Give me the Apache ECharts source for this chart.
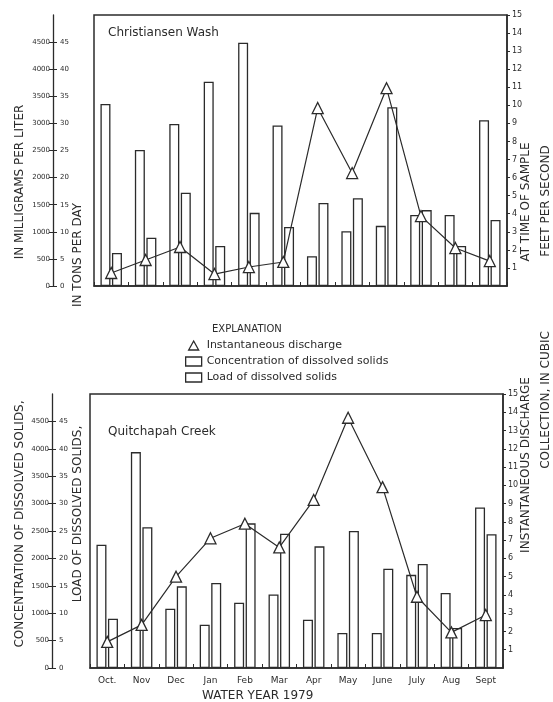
<!DOCTYPE html>
<html><head><meta charset="utf-8">
<script src="https://cdn.jsdelivr.net/npm/echarts@6/dist/echarts.min.js"></script>
<style>html,body{margin:0;padding:0;background:#fff}#c{width:553px;height:702px}</style>
</head><body><div id="c"></div>
<script>
// ---- data ----
const months = ['Oct.','Nov','Dec','Jan','Feb','Mar','Apr','May','June','July','Aug','Sept'];
// Christiansen Wash
const cwConc = [3360, 2510, 2990, 3770, 4490, 2960, 550, 1010, 1110, 1310, 1310, 3060];   // mg/L
const cwLoad = [6.1, 8.9, 17.2, 7.4, 13.5, 10.9, 15.3, 16.2, 33.0, 14.0, 7.4, 12.2];       // tons/day
const cwDis  = [0.72, 1.44, 2.16, 0.66, 1.05, 1.33, 9.85, 6.25, 10.95, 3.87, 2.1, 1.38];  // ft3/s
// Quitchapah Creek
const qcConc = [2250, 3940, 1080, 790, 1190, 1340, 880, 640, 640, 1700, 1370, 2930];
const qcLoad = [9.0, 25.7, 14.9, 15.5, 26.4, 24.5, 22.2, 25.0, 18.1, 19.0, 7.3, 24.4];
const qcDis  = [1.43, 2.36, 5.0, 7.1, 7.9, 6.6, 9.2, 13.7, 9.9, 3.9, 1.95, 2.9];

const ink = '#2b2b2b';
const FONT = 'DejaVu Sans';
const chart = echarts.init(document.getElementById('c'));
const plain = v => String(v);

function xAx(g, showLabels) {
  return {type:'category', gridIndex:g, data:months, boundaryGap:true,
    axisLine:{show:true, lineStyle:{color:ink, width:1.5}},
    axisTick:{show:true, inside:true, length:4, lineStyle:{color:ink, width:1}},
    axisLabel:{show:showLabels, color:ink, fontSize:9, fontFamily:FONT, margin:8, interval:0},
    splitLine:{show:false}};
}
function concAx(g, off) {
  return {type:'value', gridIndex:g, position:'left', offset:off, min:0, max:5000, interval:500,
    axisLine:{show:true, lineStyle:{color:ink, width:1.3}},
    axisTick:{show:true, length:4, lineStyle:{color:ink}},
    axisLabel:{color:ink, fontSize:7, fontFamily:FONT, margin:3, showMaxLabel:false, formatter:plain},
    splitLine:{show:false}};
}
function loadAx(g, off) {
  return {type:'value', gridIndex:g, position:'left', offset:off, min:0, max:50, interval:5,
    axisLine:{show:false},
    axisTick:{show:true, inside:true, length:4, lineStyle:{color:ink}},
    axisLabel:{inside:true, color:ink, fontSize:7, fontFamily:FONT, margin:7, showMaxLabel:false, formatter:plain},
    splitLine:{show:false}};
}
function disAx(g) {
  return {type:'value', gridIndex:g, position:'right', min:0, max:15, interval:1,
    axisLine:{show:true, lineStyle:{color:ink, width:1.5}},
    axisTick:{show:true, length:3, lineStyle:{color:ink}},
    axisLabel:{color:ink, fontSize:8, fontFamily:FONT, margin:5, showMinLabel:false, formatter:plain},
    splitLine:{show:false}};
}
const barStyle = {color:'rgba(255,255,255,0)', borderColor:ink, borderWidth:1.3};
function bars(name, xi, yi, data) {
  return {type:'bar', name:name, xAxisIndex:xi, yAxisIndex:yi, data:data,
    barWidth:10, barGap:'15%', itemStyle:barStyle, z:2};
}
function line(xi, yi, data) {
  return {type:'line', name:'Instantaneous discharge', xAxisIndex:xi, yAxisIndex:yi, data:data,
    symbol:'triangle', symbolSize:11, z:5,
    itemStyle:{color:'#fff', borderColor:ink, borderWidth:1.3},
    lineStyle:{color:ink, width:1.2}};
}
function vtext(str, x, y, size) {
  return {type:'text', x:x, y:y, rotation:Math.PI/2,
    style:{text:str, fill:ink, font:size+'px "'+FONT+'"', align:'center', verticalAlign:'middle'}};
}

chart.setOption({
  animation:false,
  backgroundColor:'#fff',
  grid:[
    {left:94, right:46, top:15, height:271, show:true, borderColor:ink, borderWidth:1.5},
    {left:90, right:50, top:394, height:274, show:true, borderColor:ink, borderWidth:1.5}
  ],
  title:[
    {text:'Christiansen Wash', left:103, top:22, textStyle:{fontSize:12, fontWeight:'normal', color:ink, fontFamily:FONT}},
    {text:'Quitchapah Creek', left:103, top:421, textStyle:{fontSize:12, fontWeight:'normal', color:ink, fontFamily:FONT}},
    {text:'EXPLANATION', left:207, top:319, textStyle:{fontSize:10, fontWeight:'normal', color:ink, fontFamily:FONT}},
    {text:'WATER YEAR 1979', left:197, top:685, textStyle:{fontSize:12, fontWeight:'normal', color:ink, fontFamily:FONT}}
  ],
  legend:{orient:'vertical', left:180, top:335, itemWidth:16, itemHeight:9, itemGap:5,
    textStyle:{fontSize:11, color:ink, fontFamily:FONT},
    itemStyle:{color:'#fff', borderColor:ink, borderWidth:1.3},
    data:[
      {name:'Instantaneous discharge', icon:'path://M5,0 L10,9 L0,9 Z'},
      {name:'Concentration of dissolved solids', icon:'rect'},
      {name:'Load of dissolved solids', icon:'rect'}
    ]},
  xAxis:[xAx(0,false), xAx(1,true)],
  yAxis:[concAx(0,41), loadAx(0,41), disAx(0), concAx(1,38), loadAx(1,38), disAx(1)],
  series:[
    bars('Concentration of dissolved solids', 0, 0, cwConc),
    bars('Load of dissolved solids', 0, 1, cwLoad),
    line(0, 2, cwDis),
    bars('Concentration of dissolved solids', 1, 3, qcConc),
    bars('Load of dissolved solids', 1, 4, qcLoad),
    line(1, 5, qcDis)
  ],
  graphic:[
    vtext('CONCENTRATION OF DISSOLVED SOLIDS,', 20, 524, 12),
    vtext('IN MILLIGRAMS PER LITER', 20, 182, 12),
    vtext('LOAD OF DISSOLVED SOLIDS,', 78, 514, 12),
    vtext('IN TONS PER DAY', 78, 255, 12),
    vtext('AT TIME OF SAMPLE', 526, 202, 12),
    vtext('INSTANTANEOUS DISCHARGE', 526, 465, 12),
    vtext('FEET PER SECOND', 546, 201, 12),
    vtext('COLLECTION, IN CUBIC', 546, 400, 12)
  ]
});
</script></body></html>
